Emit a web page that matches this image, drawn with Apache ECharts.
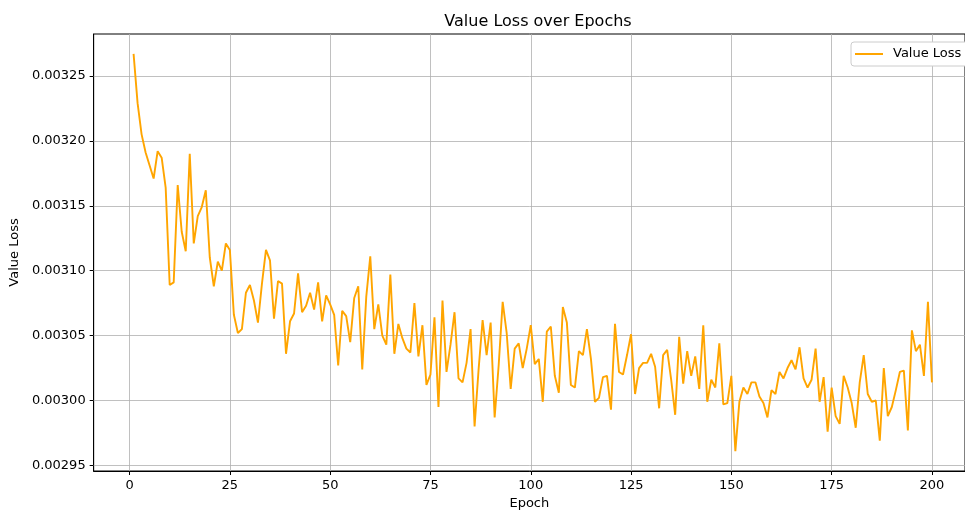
<!DOCTYPE html>
<html>
<head>
<meta charset="utf-8">
<script src="https://cdn.jsdelivr.net/npm/echarts@6/dist/echarts.min.js"></script>
<style>
html,body{margin:0;padding:0;background:#fff;}
#chart{width:965px;height:515px;}
</style>
</head>
<body>
<div id="chart"></div>
<script>
const title = 'Value Loss over Epochs';
const seriesName = 'Value Loss';
const xTicks = [0, 25, 50, 75, 100, 125, 150, 175, 200];
const yTicks = [0.00295, 0.00300, 0.00305, 0.00310, 0.00315, 0.00320, 0.00325];
const valueLoss = [
0.003267,0.003229,0.003205,0.003191,0.003181,0.003171,0.003192,0.003187,0.003164,0.003089,
0.003091,0.003166,0.003130,0.003115,0.003190,0.003121,0.003142,0.003149,0.003162,0.003110,
0.003088,0.003107,0.003100,0.003121,0.003116,0.003066,0.003052,0.003055,0.003083,0.003089,
0.003077,0.003060,0.003090,0.003116,0.003108,0.003063,0.003092,0.003090,0.003036,0.003061,
0.003067,0.003098,0.003068,0.003073,0.003083,0.003070,0.003091,0.003061,0.003081,0.003074,
0.003066,0.003027,0.003069,0.003065,0.003045,0.003079,0.003088,0.003024,0.003080,0.003111,
0.003055,0.003074,0.003050,0.003043,0.003097,0.003036,0.003059,0.003048,0.003040,0.003037,
0.003075,0.003034,0.003058,0.003012,0.003020,0.003064,0.002995,0.003077,0.003022,0.003043,
0.003068,0.003017,0.003014,0.003029,0.003055,0.002980,0.003024,0.003062,0.003035,0.003060,
0.002987,0.003027,0.003076,0.003052,0.003009,0.003040,0.003044,0.003025,0.003040,0.003058,
0.003028,0.003032,0.002999,0.003053,0.003057,0.003019,0.003006,0.003072,0.003060,0.003012,
0.003010,0.003038,0.003035,0.003055,0.003032,0.002999,0.003002,0.003018,0.003019,0.002993,
0.003059,0.003022,0.003020,0.003035,0.003051,0.003005,0.003025,0.003029,0.003029,0.003036,
0.003026,0.002994,0.003035,0.003039,0.003016,0.002989,0.003049,0.003013,0.003038,0.003019,
0.003034,0.003009,0.003058,0.002999,0.003016,0.003010,0.003044,0.002997,0.002998,0.003019,
0.002961,0.002999,0.003010,0.003005,0.003014,0.003014,0.003003,0.002998,0.002987,0.003008,
0.003005,0.003022,0.003017,0.003025,0.003031,0.003024,0.003041,0.003017,0.003010,0.003016,
0.003040,0.002999,0.003018,0.002976,0.003010,0.002988,0.002982,0.003019,0.003010,0.002998,
0.002979,0.003014,0.003035,0.003005,0.002999,0.003000,0.002969,0.003025,0.002988,0.002995,
0.003008,0.003022,0.003023,0.002977,0.003054,0.003038,0.003043,0.003019,0.003076,0.003014
];
const epochs = valueLoss.map((v, i) => i + 1);

const xMin = -8.95, xMax = 208.24;
const yMin = 0.0029457, yMax = 0.0032823;

const chart = echarts.init(document.getElementById('chart'), null, {renderer: 'canvas'});
const font = 'DejaVu Sans';
const gridLines = xTicks.map(v => [{coord: [v, yMin]}, {coord: [v, yMax]}])
  .concat(yTicks.map(v => [{coord: [xMin, v]}, {coord: [xMax, v]}]));

chart.setOption({
  animation: false,
  backgroundColor: '#fff',
  textStyle: {fontFamily: font},
  title: {
    text: title, left: 533, top: 9, textAlign: 'center',
    textStyle: {fontFamily: font, fontSize: 16, fontWeight: 'normal', color: '#000'}
  },
  legend: {
    data: [{name: seriesName, icon: 'rect'}],
    left: 851, top: 42, orient: 'vertical',
    padding: [5, 8, 5, 4],
    itemWidth: 28, itemHeight: 2,
    borderColor: '#cccccc', borderWidth: 1, borderRadius: 3,
    backgroundColor: '#fff',
    textStyle: {fontFamily: font, fontSize: 13, color: '#000', padding: [0, 0, 0, 5], lineHeight: 14}
  },
  grid: {
    left: 93, top: 34, width: 872, height: 437,
    show: true, borderColor: '#000', borderWidth: 1, backgroundColor: 'transparent',
    containLabel: false
  },
  xAxis: {
    type: 'value', min: xMin, max: xMax,
    name: 'Epoch', nameLocation: 'middle', nameGap: 26,
    nameTextStyle: {fontFamily: font, fontSize: 13, color: '#000'},
    axisLine: {show: true, onZero: false, lineStyle: {color: '#000', width: 1}},
    axisTick: {show: true, length: 4, customValues: xTicks, lineStyle: {color: '#000'}},
    axisLabel: {customValues: xTicks, margin: 8, fontFamily: font, fontSize: 13, color: '#000'},
    splitLine: {show: false}
  },
  yAxis: {
    type: 'value', min: yMin, max: yMax,
    name: 'Value Loss', nameLocation: 'middle', nameGap: 67, nameRotate: 90,
    nameTextStyle: {fontFamily: font, fontSize: 13, color: '#000'},
    axisLine: {show: true, onZero: false, lineStyle: {color: '#000', width: 1}},
    axisTick: {show: true, length: 4, customValues: yTicks, lineStyle: {color: '#000'}},
    axisLabel: {customValues: yTicks, margin: 8, fontFamily: font, fontSize: 13, color: '#000',
      formatter: v => v.toFixed(5)},
    splitLine: {show: false}
  },
  series: [{
    name: seriesName, type: 'line',
    data: epochs.map((e, i) => [e, valueLoss[i]]),
    showSymbol: false, symbol: 'none', z: 3,
    lineStyle: {color: '#FFA500', width: 1.9},
    itemStyle: {color: '#FFA500'},
    markLine: {
      silent: true, z: 1, symbol: ['none', 'none'], animation: false,
      label: {show: false},
      lineStyle: {color: '#b0b0b0', width: 0.8, type: 'solid'},
      emphasis: {disabled: true},
      data: gridLines
    }
  }]
});
</script>
</body>
</html>
